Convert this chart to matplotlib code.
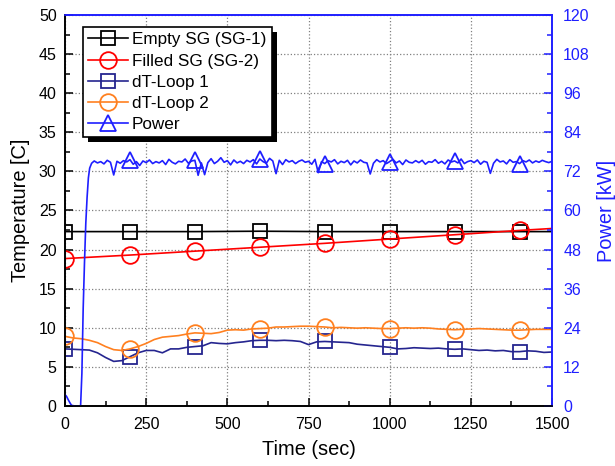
import numpy as np
import matplotlib
matplotlib.use("Agg")
import matplotlib.pyplot as plt
from matplotlib.patches import Rectangle
from matplotlib.transforms import IdentityTransform
from matplotlib.ticker import MultipleLocator

plt.rcParams['font.family'] = ['Liberation Sans', 'DejaVu Sans']

# ---- data -------------------------------------------------------------
sg_time = [0, 200, 400, 600, 800, 1000, 1200, 1400, 1500]
empty_sg = [22.3, 22.3, 22.3, 22.35, 22.3, 22.3, 22.3, 22.3, 22.3]
filled_sg = [18.85, 19.3, 19.8, 20.3, 20.8, 21.35, 21.9, 22.45, 22.7]

loop_time = np.arange(0, 1501, 25)
loop1 = [7.3, 7.25, 7.2, 7.15, 6.8, 6.2, 5.7, 5.8, 6.3, 6.8,
         7.1, 7.1, 6.8, 7.3, 7.3, 7.5, 7.6, 7.7, 8.1, 8.0,
         7.95, 8.1, 8.2, 8.35, 8.4, 8.4, 8.35, 8.4, 8.35, 8.25,
         7.85, 8.2, 8.25, 8.2, 8.15, 8.1, 7.9, 7.8, 7.7, 7.6,
         7.5, 7.3, 7.35, 7.45, 7.4, 7.35, 7.4, 7.3, 7.25, 7.3,
         7.2, 7.1, 7.15, 7.05, 7.1, 6.95, 6.95, 7.05, 7.0, 6.85,
         6.9]
loop2 = [8.9, 8.7, 8.6, 8.4, 8.1, 7.6, 7.2, 7.1, 7.3, 7.6,
         8.0, 8.5, 8.8, 8.9, 9.0, 9.2, 9.35, 9.3, 9.25, 9.4,
         9.7, 9.75, 9.7, 9.85, 9.9, 9.95, 10.1, 10.1, 10.15, 10.2,
         10.2, 10.15, 10.1, 10.0, 10.05, 10.0, 9.95, 10.0, 9.95, 9.9,
         9.9, 9.95, 10.0, 9.95, 10.0, 9.95, 9.85, 9.8, 9.75, 9.8,
         9.85, 9.9, 9.85, 9.8, 9.75, 9.7, 9.7, 9.75, 9.8, 9.8,
         9.8]

# heater power: start-up ramp, then 10 s samples of the plateau
ramp_time = [0, 5, 10, 15, 20, 30, 40, 48, 52, 56, 60, 64, 68, 72, 76, 82]
ramp_power = [3.5, 2.9, 1.9, 1.0, 0.2, 0.0, 0.0, 0.0, 10.0, 30.0, 44.0,
              56.0, 64.0, 70.0, 73.0, 74.5]
plateau_time = np.arange(90, 1501, 10)
plateau_power = [
    75.2, 74.6, 75.0, 74.3, 75.4, 74.8, 70.9, 75.1, 74.5, 75.3,
    74.9, 75.6, 74.2, 75.0, 73.8, 75.2, 74.7, 75.5, 74.4, 75.0,
    74.6, 75.3, 74.1, 75.7, 74.8, 74.3, 75.1, 74.9, 75.8, 74.5,
    75.2, 75.4, 70.8, 74.6, 71.0, 74.7, 75.9, 74.4, 75.1, 76.2,
    74.8, 75.3, 74.0, 75.5, 74.6, 75.1, 74.4, 75.4, 74.9, 75.6,
    74.3, 75.8, 75.0, 74.5, 76.0, 75.2, 71.3, 75.4, 74.1, 75.6,
    74.9, 75.3, 74.4, 75.1, 75.5, 74.8, 75.1, 74.2, 75.7, 71.6,
    75.0, 74.4, 75.3, 74.9, 75.6, 74.3, 75.1, 74.7, 75.4, 74.0,
    75.2, 74.6, 75.5, 74.8, 74.6, 71.2, 74.5, 75.6, 74.9, 75.3,
    74.4, 75.0, 75.7, 74.6, 75.2, 74.1, 75.5, 74.8, 74.6, 75.3,
    74.7, 75.4, 74.2, 75.0, 74.8, 75.6, 74.5, 75.1, 74.3, 75.5,
    74.9, 75.2, 74.6, 75.8, 74.4, 75.0, 75.3, 74.7, 75.5, 74.2,
    75.1, 74.8, 71.4, 74.5, 75.7, 74.9, 75.2, 74.3, 75.6, 74.8,
    75.0, 74.4, 75.3, 74.9, 75.5, 74.6, 75.2, 74.8, 75.4, 75.0,
    74.7, 75.1]

power_time = list(ramp_time) + list(plateau_time)
power = ramp_power + plateau_power

marker_times = [200, 400, 600, 800, 1000, 1200, 1400]
power_marks = [i for i, t in enumerate(power_time) if t in marker_times]

# ---- figure -----------------------------------------------------------
fig = plt.figure(figsize=(6.15, 4.66), dpi=100)
ax = fig.add_axes([0.1057, 0.1288, 0.7919, 0.8390])
ax2 = ax.twinx()

BLUE = '#1f1fff'
NAVY = '#25258f'
ORANGE = '#ff8020'
lw = 1.2

h1, = ax.plot(sg_time, empty_sg, color='black', lw=lw, marker='s', ms=10,
              mfc='none', mew=1.3, markevery=slice(0, 8),
              label='Empty SG (SG-1)')
h2, = ax.plot(sg_time, filled_sg, color='red', lw=lw, marker='o', ms=12,
              mfc='none', mew=1.3, markevery=slice(0, 8),
              label='Filled SG (SG-2)')
h3, = ax.plot(loop_time, loop1, color=NAVY, lw=lw, marker='s', ms=10,
              mfc='none', mew=1.3, markevery=slice(0, None, 8),
              label='dT-Loop 1')
h4, = ax.plot(loop_time, loop2, color=ORANGE, lw=lw, marker='o', ms=12,
              mfc='none', mew=1.3, markevery=slice(0, None, 8),
              label='dT-Loop 2')
h5, = ax2.plot(power_time, power, color=BLUE, lw=lw, marker='^', ms=12,
               mfc='none', mew=1.3, markevery=power_marks, label='Power')

ax.set_xlim(0, 1500)
ax.set_ylim(0, 50)
ax2.set_ylim(0, 120)
ax.xaxis.set_major_locator(MultipleLocator(250))
ax.xaxis.set_minor_locator(MultipleLocator(125))
ax.yaxis.set_major_locator(MultipleLocator(5))
ax.yaxis.set_minor_locator(MultipleLocator(2.5))
ax2.yaxis.set_major_locator(MultipleLocator(12))
ax2.yaxis.set_minor_locator(MultipleLocator(6))

ax.grid(True, which='major', linestyle=':', color='#808080', lw=0.9)

ax.tick_params(axis='both', which='both', direction='in', top=False,
               right=False, labelsize=11.5, width=1.1)
ax.tick_params(which='major', length=6)
ax.tick_params(which='minor', length=3.5)
ax.tick_params(axis='x', which='major', pad=8)
ax.tick_params(axis='y', which='major', pad=6)
ax2.tick_params(axis='y', which='both', direction='in', colors=BLUE,
                labelsize=11.5, width=1.1)
ax2.tick_params(axis='y', which='major', length=6, pad=8)
ax2.tick_params(axis='y', which='minor', length=3.5)

for a in (ax, ax2):
    a.spines['left'].set_color('black')
    a.spines['bottom'].set_color('black')
    a.spines['top'].set_color(BLUE)
    a.spines['right'].set_color(BLUE)
    for s in a.spines.values():
        s.set_linewidth(1.2)

ax.set_xlabel('Time (sec)', fontsize=14.4, labelpad=6)
ax.set_ylabel('Temperature [C]', fontsize=14.4, labelpad=6)
ax2.set_ylabel('Power [kW]', fontsize=14.4, color=BLUE, labelpad=5)

leg = ax2.legend(handles=[h1, h2, h3, h4, h5], loc='upper left',
                 bbox_to_anchor=(0.036, 0.9685), borderaxespad=0,
                 fontsize=12.3, frameon=True, fancybox=False,
                 framealpha=1, edgecolor='black', handlelength=2.35,
                 handletextpad=0.25, labelspacing=0.36, borderpad=0.3)
leg.get_frame().set_linewidth(1.2)
leg.set_zorder(6)

# solid drop shadow behind the legend box
fig.canvas.draw()
bb = leg.get_window_extent()
shadow = Rectangle((bb.x0 + 5, bb.y0 - 5), bb.width, bb.height,
                   transform=IdentityTransform(), facecolor='black',
                   edgecolor='none', zorder=5.5)
ax2.add_artist(shadow)

fig.savefig('out.png', dpi=100)
